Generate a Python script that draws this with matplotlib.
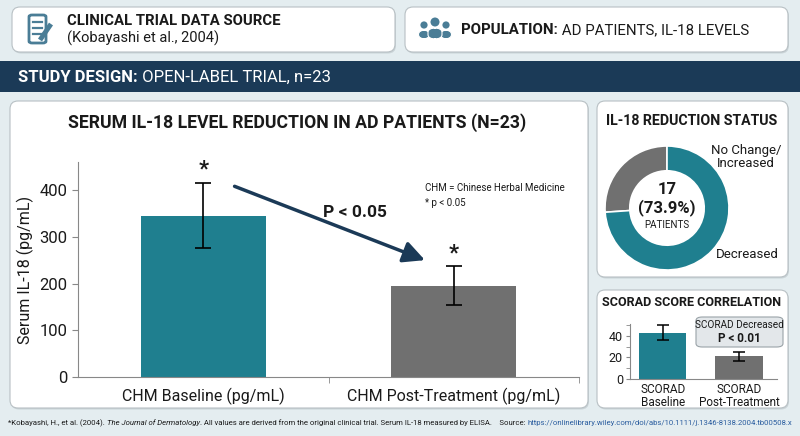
import matplotlib.pyplot as plt
from matplotlib.patches import FancyBboxPatch, Rectangle, Ellipse
import numpy as np

plt.rcParams['font.family'] = ['Roboto', 'DejaVu Sans']

# data
il18_labels = ['CHM Baseline (pg/mL)', 'CHM Post-Treatment (pg/mL)']
il18_mean = [345, 195]
il18_err = [70, 42]
status_labels = ['No Change/\nIncreased', 'Decreased']
status_counts = [6, 17]
scorad_labels = ['SCORAD\nBaseline', 'SCORAD\nPost-Treatment']
scorad_mean = [43, 21]
scorad_err = [7, 4]

teal = '#1f7f8f'
grey = '#707070'
navy = '#1b3a57'
dark = '#1a1a1a'
icon_c = '#4a7d96'

W, H = 800, 436
fig = plt.figure(figsize=(8, 4.36), dpi=100, facecolor='#e4edf0')


def fx(x):
    return x / W


def fy(y):
    return 1 - y / H


def card(x0, y0, x1, y1, r=8):
    sh = FancyBboxPatch((x0 / 100 + 0.01, (H - y1) / 100 - 0.015), (x1 - x0) / 100, (y1 - y0) / 100,
                        boxstyle='round,pad=0,rounding_size=%f' % (r / 100),
                        transform=fig.dpi_scale_trans, fc='#9aa5aa', ec='none', alpha=0.35, zorder=-2)
    fig.patches.append(sh)
    p = FancyBboxPatch((x0 / 100, (H - y1) / 100), (x1 - x0) / 100, (y1 - y0) / 100,
                       boxstyle='round,pad=0,rounding_size=%f' % (r / 100),
                       transform=fig.dpi_scale_trans, fc='white', ec='#b8c0c4', lw=0.8, zorder=-1)
    fig.patches.append(p)


def runs(x, y, parts, size, **kw):
    # draw text pieces one after another
    r = fig.canvas.get_renderer()
    cur = fx(x)
    for s, props in parts:
        opts = dict(kw)
        opts.update(props)
        t = fig.text(cur, fy(y), s, fontsize=size, va='center', ha='left', **opts)
        bb = t.get_window_extent(renderer=r)
        cur += bb.width / W


# top cards
card(12, 7, 395, 52)
card(405, 7, 788, 52)
fig.patches.append(Rectangle((0, fy(92)), 1, (92 - 61) / H, transform=fig.transFigure, fc=navy, ec='none',
                             zorder=-1))
card(10, 101, 588, 408)
card(597, 101, 788, 277)
card(597, 290, 788, 408)

# document icon
fig.patches.append(FancyBboxPatch((fx(29), fy(43)), fx(17), (43 - 15) / H, boxstyle='round,pad=0,rounding_size=0.004',
                                  transform=fig.transFigure, fc='none', ec=icon_c, lw=2))
for yy in [22, 28, 34]:
    fig.lines.append(plt.Line2D([fx(33), fx(42)], [fy(yy), fy(yy)], transform=fig.transFigure, color=icon_c, lw=1.6))
fig.lines.append(plt.Line2D([fx(40), fx(51)], [fy(40), fy(24)], transform=fig.transFigure, color=icon_c, lw=3.5,
                            solid_capstyle='butt'))

# people icon
for cx, cy, rr in [(424, 25, 3.6), (446, 25, 3.6), (435, 22, 4.5)]:
    fig.patches.append(Ellipse((fx(cx), fy(cy)), 2 * rr / W, 2 * rr / H, transform=fig.transFigure, fc=icon_c))
for cx, bw, top in [(424, 11, 30), (446, 11, 30), (435, 14, 28)]:
    fig.patches.append(FancyBboxPatch((fx(cx - bw / 2), fy(39)), bw / W, (39 - top) / H,
                                      boxstyle='round,pad=0,rounding_size=0.01', transform=fig.transFigure,
                                      fc=icon_c, ec='white', lw=0.8))

runs(67, 21, [('CLINICAL TRIAL DATA SOURCE', dict(weight='bold'))], 10.7, color=dark)
runs(67, 38, [('(Kobayashi et al., 2004)', dict())], 10.5, color=dark)
runs(461, 30, [('POPULATION:', dict(weight='bold')), (' AD PATIENTS, IL-18 LEVELS', dict())], 10.8, color=dark)
runs(18, 77, [('STUDY DESIGN:', dict(weight='bold')), (' OPEN-LABEL TRIAL, n=23', dict())], 12, color='white')

# main bar chart
fig.text(fx(297), fy(123), 'SERUM IL-18 LEVEL REDUCTION IN AD PATIENTS (N=23)', fontsize=12.7, weight='bold',
         ha='center', va='center', color=dark)
ax = fig.add_axes([fx(78), fy(377), (579 - 78) / W, (377 - 162) / H])
ax.set_facecolor('white')
x = np.arange(len(il18_labels))
ax.bar(x, il18_mean, width=0.5, color=[teal, grey], zorder=2)
ax.errorbar(x, il18_mean, yerr=il18_err, fmt='none', ecolor='black', capsize=6, elinewidth=1.2, capthick=1.2, zorder=3)
for xi, m, e in zip(x, il18_mean, il18_err):
    ax.text(xi, m + e + 5, '*', ha='center', va='bottom', fontsize=16, weight='bold', color=dark)
ax.set_xlim(-0.5, 1.5)
ax.set_ylim(0, 460)
ax.set_yticks([0, 100, 200, 300, 400])
ax.set_xticks(x)
ax.set_xticklabels(il18_labels, fontsize=11.5, color=dark)
ax.set_xticks([0.5, 1.5], minor=True)
ax.tick_params(axis='x', which='major', length=0, pad=8)
ax.tick_params(axis='x', which='minor', length=4, color='#888888')
ax.tick_params(axis='y', labelsize=12, length=4, color='#888888', labelcolor=dark)
ax.set_ylabel('Serum IL-18 (pg/mL)', fontsize=11.5, color=dark)
for s in ['top', 'right']:
    ax.spines[s].set_visible(False)
for s in ['left', 'bottom']:
    ax.spines[s].set_color('#888888')
ax.annotate('', xy=(0.885, 250), xytext=(0.125, 408),
            arrowprops=dict(arrowstyle='-|>,head_length=1.3,head_width=0.65', color=navy, lw=2.5,
                            shrinkA=0, shrinkB=0))
ax.text(0.605, 353, 'P < 0.05', fontsize=12.5, weight='bold', ha='center', va='center', color=dark)
ax.text(0.884, 405, 'CHM = Chinese Herbal Medicine', fontsize=7, ha='left', va='center', color=dark)
ax.text(0.884, 372, '* p < 0.05', fontsize=7, ha='left', va='center', color=dark)

# donut
fig.text(fx(692), fy(121), 'IL-18 REDUCTION STATUS', fontsize=10.2, weight='bold', ha='center', va='center', color=dark)
ax2 = fig.add_axes([fx(605), fy(270), 124 / W, 124 / H])
ax2.pie(status_counts, colors=[grey, teal], startangle=90, counterclock=True, radius=1,
        wedgeprops=dict(width=0.4, edgecolor='white', linewidth=1.2))
ax2.set_xlim(-1, 1)
ax2.set_ylim(-1, 1)
fig.text(fx(746), fy(157), status_labels[0], fontsize=9.5, ha='center', va='center', color=dark, linespacing=1.0)
fig.text(fx(747), fy(255), status_labels[1], fontsize=9.5, ha='center', va='center', color=dark)
pct = status_counts[1] / sum(status_counts) * 100
fig.text(fx(667), fy(190), str(status_counts[1]), fontsize=12, weight='bold', ha='center', va='center', color=dark)
fig.text(fx(667), fy(208), '(%.1f%%)' % pct, fontsize=12, weight='bold', ha='center', va='center', color=dark)
fig.text(fx(667), fy(225), 'PATIENTS', fontsize=7, ha='center', va='center', color=dark)

# scorad
fig.text(fx(692), fy(303), 'SCORAD SCORE CORRELATION', fontsize=9.1, weight='bold', ha='center', va='center', color=dark)
ax3 = fig.add_axes([fx(630), fy(379), (777 - 630) / W, (379 - 324) / H])
ax3.set_facecolor('white')
x3 = np.arange(len(scorad_labels))
ax3.bar(x3, scorad_mean, width=0.62, color=[teal, grey], zorder=2)
ax3.errorbar(x3, scorad_mean, yerr=scorad_err, fmt='none', ecolor='black', capsize=4, elinewidth=1.1, capthick=1.1,
             zorder=3)
ax3.set_xlim(-0.43, 1.5)
ax3.set_ylim(0, 51)
ax3.set_yticks([0, 20, 40])
ax3.set_yticks([10, 30, 50], minor=True)
ax3.set_xticks(x3)
ax3.set_xticklabels(scorad_labels, fontsize=8.5, color=dark, linespacing=1.0)
ax3.tick_params(axis='x', length=0, pad=3)
ax3.tick_params(axis='y', which='both', labelsize=9, length=3, color='#888888', labelcolor=dark, pad=2)
for s in ['top', 'right']:
    ax3.spines[s].set_visible(False)
for s in ['left', 'bottom']:
    ax3.spines[s].set_color('#888888')
fig.patches.append(FancyBboxPatch((fx(696), fy(347)), 87 / W, 30 / H, boxstyle='round,pad=0,rounding_size=0.008',
                                  transform=fig.transFigure, fc='#e3e7ea', ec='#9aa3a8', lw=0.8, zorder=5))
fig.text(fx(739.5), fy(325), 'SCORAD Decreased', fontsize=7.2, ha='center', va='center', color=dark, zorder=6)
fig.text(fx(739.5), fy(338), 'P < 0.01', fontsize=8.5, weight='bold', ha='center', va='center', color=dark, zorder=6)

# footer
runs(8, 423, [('*Kobayashi, H., et al. (2004). ', dict()), ('The Journal of Dermatology', dict(style='italic')),
              ('. All values are derived from the original clinical trial. Serum IL-18 measured by ELISA.    Source: ',
               dict()),
              ('https://onlinelibrary.wiley.com/doi/abs/10.1111/j.1346-8138.2004.tb00508.x', dict(color='#2a5d9f'))],
     5.6, color=dark)

fig.savefig('out.png', dpi=100, facecolor=fig.get_facecolor())
